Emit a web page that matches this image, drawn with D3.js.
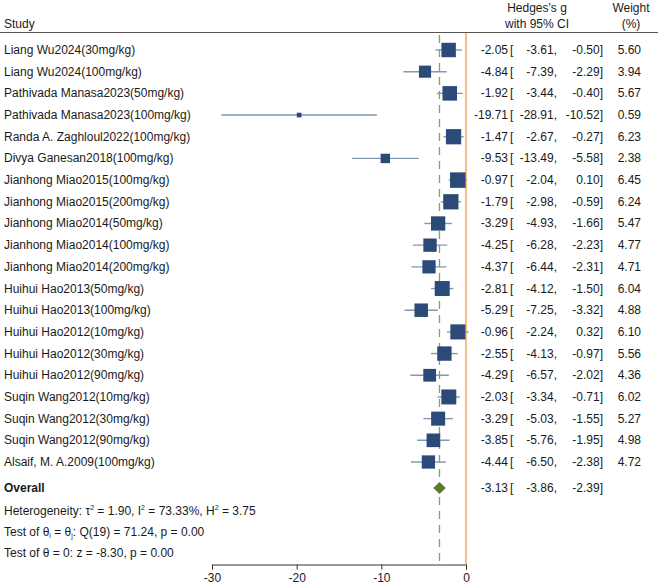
<!DOCTYPE html>
<html>
<head>
<meta charset="utf-8">
<script src="https://cdn.jsdelivr.net/npm/d3@7"></script>
<style>
  body { margin: 0; background: #fff; }
  text { font-family: "Liberation Sans", Arial, sans-serif; font-size: 12px; fill: #1a1a1a; }
</style>
</head>
<body>
<div id="chart"></div>
<script>
// study labels and estimates
var studies = [
  "Liang Wu2024(30mg/kg)", "Liang Wu2024(100mg/kg)", "Pathivada Manasa2023(50mg/kg)",
  "Pathivada Manasa2023(100mg/kg)", "Randa A. Zaghloul2022(100mg/kg)", "Divya Ganesan2018(100mg/kg)",
  "Jianhong Miao2015(100mg/kg)", "Jianhong Miao2015(200mg/kg)", "Jianhong Miao2014(50mg/kg)",
  "Jianhong Miao2014(100mg/kg)", "Jianhong Miao2014(200mg/kg)", "Huihui Hao2013(50mg/kg)",
  "Huihui Hao2013(100mg/kg)", "Huihui Hao2012(10mg/kg)", "Huihui Hao2012(30mg/kg)",
  "Huihui Hao2012(90mg/kg)", "Suqin Wang2012(10mg/kg)", "Suqin Wang2012(30mg/kg)",
  "Suqin Wang2012(90mg/kg)", "Alsaif, M. A.2009(100mg/kg)"
];
var effect = [-2.05, -4.84, -1.92, -19.71, -1.47, -9.53, -0.97, -1.79, -3.29, -4.25,
              -4.37, -2.81, -5.29, -0.96, -2.55, -4.29, -2.03, -3.29, -3.85, -4.44];
var lower  = [-3.61, -7.39, -3.44, -28.91, -2.67, -13.49, -2.04, -2.98, -4.93, -6.28,
              -6.44, -4.12, -7.25, -2.24, -4.13, -6.57, -3.34, -5.03, -5.76, -6.50];
var upper  = [-0.50, -2.29, -0.40, -10.52, -0.27, -5.58, 0.10, -0.59, -1.66, -2.23,
              -2.31, -1.50, -3.32, 0.32, -0.97, -2.02, -0.71, -1.55, -1.95, -2.38];
var weight = [5.60, 3.94, 5.67, 0.59, 6.23, 2.38, 6.45, 6.24, 5.47, 4.77,
              4.71, 6.04, 4.88, 6.10, 5.56, 4.36, 6.02, 5.27, 4.98, 4.72];
var overall = {est: -3.13, lo: -3.86, hi: -2.39};
var axisTicks = [-30, -20, -10, 0];

var width = 658, height = 584;
var svg = d3.select("#chart").append("svg")
            .attr("width", width)
            .attr("height", height);

var x = d3.scaleLinear().domain([-30, 0]).range([212, 466]);
var rows = d3.range(studies.length);
var y = d3.scalePoint().domain(rows).range([50, 462]);
var yOverall = 488;
var side = d3.scaleSqrt().domain([0, 6.45]).range([0, 15.5]);

var fmt = d3.format(".2f");
function num(v) { return fmt(v).replace("−", "-"); }

// header
svg.append("text").attr("x", 4).attr("y", 28).text("Study");
svg.append("text").attr("x", 537).attr("y", 12).attr("text-anchor", "middle").text("Hedges's g");
svg.append("text").attr("x", 537).attr("y", 28).attr("text-anchor", "middle").text("with 95% CI");
svg.append("text").attr("x", 631).attr("y", 12).attr("text-anchor", "middle").text("Weight");
svg.append("text").attr("x", 631).attr("y", 28).attr("text-anchor", "middle").text("(%)");
svg.append("line").attr("x1", 0).attr("x2", width).attr("y1", 32.5).attr("y2", 32.5)
   .attr("stroke", "#555").attr("stroke-width", 1);

// reference lines
svg.append("line")
   .attr("x1", x(0)).attr("x2", x(0)).attr("y1", 33).attr("y2", 564)
   .attr("stroke", "#f0a860").attr("stroke-width", 1.5);
svg.append("line")
   .attr("x1", x(overall.est)).attr("x2", x(overall.est)).attr("y1", 35).attr("y2", 564)
   .attr("stroke", "#86a05e").attr("stroke-width", 1.3).attr("stroke-dasharray", "8,6");

// study rows
var row = svg.append("g").selectAll("g").data(rows).enter().append("g");

row.append("text").attr("x", 4).attr("y", function(i) { return y(i) + 4; })
   .text(function(i) { return studies[i]; });

row.append("line")
   .attr("x1", function(i) { return x(lower[i]); })
   .attr("x2", function(i) { return x(upper[i]); })
   .attr("y1", function(i) { return y(i); })
   .attr("y2", function(i) { return y(i); })
   .attr("stroke", "#8298b4").attr("stroke-width", 1.4);

row.append("rect")
   .attr("x", function(i) { return x(effect[i]) - side(weight[i]) / 2; })
   .attr("y", function(i) { return y(i) - side(weight[i]) / 2; })
   .attr("width", function(i) { return side(weight[i]); })
   .attr("height", function(i) { return side(weight[i]); })
   .attr("fill", "#2c4a78");

function ciText(g, yf, e, lo, hi) {
  g.append("text").attr("x", 508).attr("y", yf).attr("text-anchor", "end").text(function(d) { return num(e(d)); });
  g.append("text").attr("x", 510).attr("y", yf).text("[");
  g.append("text").attr("x", 557).attr("y", yf).attr("text-anchor", "end").text(function(d) { return num(lo(d)) + ","; });
  g.append("text").attr("x", 603).attr("y", yf).attr("text-anchor", "end").text(function(d) { return num(hi(d)) + "]"; });
}
ciText(row, function(i) { return y(i) + 4; },
       function(i) { return effect[i]; }, function(i) { return lower[i]; }, function(i) { return upper[i]; });
row.append("text").attr("x", 641).attr("y", function(i) { return y(i) + 4; })
   .attr("text-anchor", "end").text(function(i) { return num(weight[i]); });

// overall
var ov = svg.append("g").datum(overall);
ov.append("text").attr("x", 4).attr("y", yOverall + 4).attr("font-weight", "bold").text("Overall");
ov.append("path")
  .attr("d", function(d) {
    return "M" + x(d.lo) + "," + yOverall + "L" + x(d.est) + "," + (yOverall - 6) +
           "L" + x(d.hi) + "," + yOverall + "L" + x(d.est) + "," + (yOverall + 6) + "Z";
  })
  .attr("fill", "#5b7a2e");
ciText(ov, yOverall + 4, function(d) { return d.est; }, function(d) { return d.lo; }, function(d) { return d.hi; });

// heterogeneity notes
var t1 = svg.append("text").attr("x", 4).attr("y", 515);
t1.append("tspan").text("Heterogeneity: τ");
t1.append("tspan").attr("font-size", "7px").attr("dy", -5).text("2");
t1.append("tspan").attr("dy", 5).text(" = 1.90, I");
t1.append("tspan").attr("font-size", "7px").attr("dy", -5).text("2");
t1.append("tspan").attr("dy", 5).text(" = 73.33%, H");
t1.append("tspan").attr("font-size", "7px").attr("dy", -5).text("2");
t1.append("tspan").attr("dy", 5).text(" = 3.75");

var t2 = svg.append("text").attr("x", 4).attr("y", 536);
t2.append("tspan").text("Test of θ");
t2.append("tspan").attr("font-size", "7px").attr("dy", 2).text("i");
t2.append("tspan").attr("dy", -2).text(" = θ");
t2.append("tspan").attr("font-size", "7px").attr("dy", 2).text("j");
t2.append("tspan").attr("dy", -2).text(": Q(19) = 71.24, p = 0.00");

svg.append("text").attr("x", 4).attr("y", 557).text("Test of θ = 0: z = -8.30, p = 0.00");

// x axis
var axis = svg.append("g").attr("transform", "translate(0,564.5)")
              .call(d3.axisBottom(x).tickValues(axisTicks).tickSize(5).tickPadding(4)
                      .tickFormat(function(d) { return d3.format("d")(d).replace("−", "-"); }));
axis.select(".domain").attr("stroke", "#333");
axis.selectAll(".tick line").attr("stroke", "#333");
axis.selectAll("text").attr("font-size", "12px")
    .style("font-family", "Liberation Sans, Arial, sans-serif").attr("fill", "#1a1a1a");
</script>
</body>
</html>
